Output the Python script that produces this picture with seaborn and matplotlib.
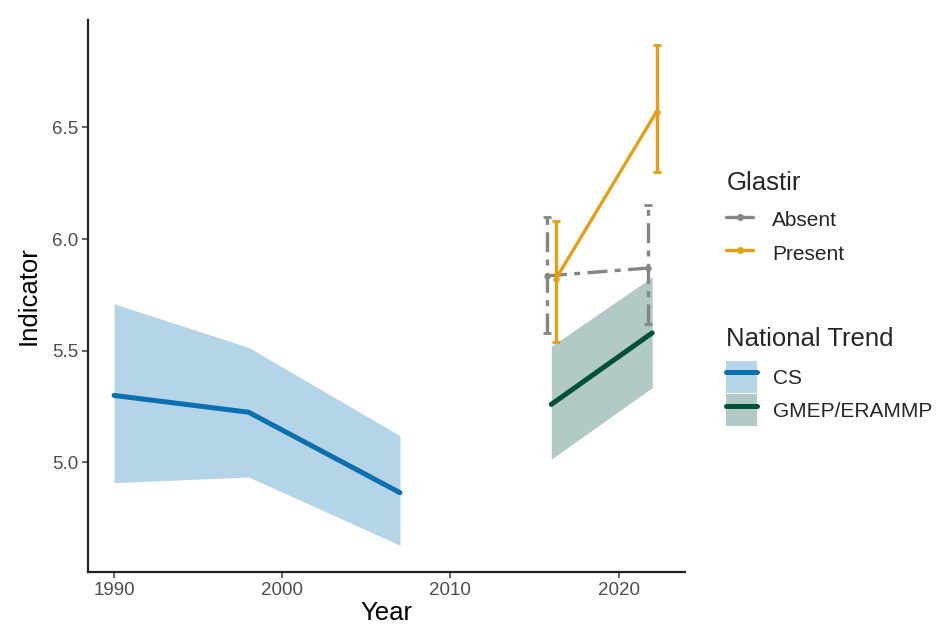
import matplotlib
matplotlib.use("Agg")
import matplotlib.pyplot as plt
import seaborn as sns
import pandas as pd
import numpy as np
from matplotlib.lines import Line2D
from matplotlib.patches import Patch

# ---- data ----
cs_year = [1990, 1998, 2007]
cs_mean = [5.30, 5.225, 4.865]
cs_low = [4.91, 4.935, 4.63]
cs_high = [5.71, 5.515, 5.12]

gm_year = [2016, 2022]
gm_mean = [5.26, 5.58]
gm_low = [5.015, 5.335]
gm_high = [5.52, 5.83]

gl_year = [2016, 2022]
absent_mean = [5.835, 5.87]
absent_low = [5.58, 5.62]
absent_high = [6.10, 6.15]
present_mean = [5.82, 6.57]
present_low = [5.54, 6.30]
present_high = [6.08, 6.87]

x_ticks = [1990, 2000, 2010, 2020]
y_ticks = [5.0, 5.5, 6.0, 6.5]

# ---- style ----
sns.set_theme(style="ticks")
plt.rcParams["font.family"] = ["Liberation Sans", "DejaVu Sans"]

C_CS = "#0a70b0"
C_CS_F = "#b4d4e8"
C_GM = "#03503c"
C_GM_F = "#b2cac5"
C_PR = "#e69f12"
C_AB = "#858585"
DODGE = 0.26

fig = plt.figure(figsize=(9.38, 6.32), dpi=100)
ax = fig.add_axes([88 / 938, 60 / 632, (685 - 88) / 938, (572 - 20) / 632])

# bands
ax.fill_between(cs_year, cs_low, cs_high, color=C_CS_F, lw=0, zorder=1)
ax.fill_between(gm_year, gm_low, gm_high, color=C_GM_F, lw=0, zorder=1)

df_cs = pd.DataFrame({"Year": cs_year, "Indicator": cs_mean})
df_gm = pd.DataFrame({"Year": gm_year, "Indicator": gm_mean})
sns.lineplot(data=df_cs, x="Year", y="Indicator", color=C_CS, lw=3.6, ax=ax, zorder=2)
sns.lineplot(data=df_gm, x="Year", y="Indicator", color=C_GM, lw=3.6, ax=ax, zorder=2)

# Glastir
ab_x = np.array(gl_year) - DODGE
pr_x = np.array(gl_year) + DODGE
dash = (6, 2.2, 1.8, 2.2)
df_ab = pd.DataFrame({"Year": ab_x, "Indicator": absent_mean})
df_pr = pd.DataFrame({"Year": pr_x, "Indicator": present_mean})
sns.lineplot(data=df_ab, x="Year", y="Indicator", color=C_AB, lw=2.4, ax=ax, zorder=3)
ax.lines[-1].set_dashes(dash)
sns.lineplot(data=df_pr, x="Year", y="Indicator", color=C_PR, lw=2.4, ax=ax, zorder=4)

eb = ax.errorbar(ab_x, absent_mean,
                 yerr=[np.array(absent_mean) - np.array(absent_low),
                       np.array(absent_high) - np.array(absent_mean)],
                 fmt="o", ms=3.5, color=C_AB, ecolor=C_AB, elinewidth=2.4,
                 capsize=3, capthick=2, zorder=3)
for lc in eb[2]:
    lc.set_linestyle((0, dash))
ax.errorbar(pr_x, present_mean,
            yerr=[np.array(present_mean) - np.array(present_low),
                  np.array(present_high) - np.array(present_mean)],
            fmt="o", ms=3.5, color=C_PR, ecolor=C_PR, elinewidth=2.4,
            capsize=3, capthick=2, zorder=4)

# axes
ax.set_xlim(1988.45, 2023.95)
ax.set_ylim(4.51, 6.98)
ax.set_xticks(x_ticks)
ax.set_xticklabels([str(t) for t in x_ticks])
ax.set_yticks(y_ticks)
ax.set_yticklabels([f"{t:.1f}" for t in y_ticks])
ax.tick_params(axis="both", labelsize=13.5, colors="#4d4d4d", length=4, width=1.2,
               labelcolor="#4d4d4d", pad=3)
ax.set_xlabel("Year", fontsize=18.5, color="black", labelpad=2)
ax.set_ylabel("Indicator", fontsize=18.5, color="black", labelpad=8)
for s in ["top", "right"]:
    ax.spines[s].set_visible(False)
for s in ["left", "bottom"]:
    ax.spines[s].set_linewidth(1.6)
    ax.spines[s].set_color("#222222")

# legends
h_ab = Line2D([], [], color=C_AB, lw=2.4, marker="o", ms=4)
h_pr = Line2D([], [], color=C_PR, lw=2.4, marker="o", ms=4)
leg1 = fig.legend([h_ab, h_pr], ["Absent", "Present"], title="Glastir",
                  loc="upper left", bbox_to_anchor=(718 / 938, 1 - 163 / 632),
                  frameon=False, fontsize=15, title_fontsize=18.5,
                  handlelength=1.3, handleheight=1.4, handletextpad=0.9,
                  labelspacing=0.45, borderaxespad=0)
leg1._legend_box.align = "left"
leg1._legend_box.sep = 8.5

h_cs = (Patch(facecolor=C_CS_F, lw=0), Line2D([], [], color=C_CS, lw=3.6))
h_gm = (Patch(facecolor=C_GM_F, lw=0), Line2D([], [], color=C_GM, lw=3.6))
leg2 = fig.legend([h_cs, h_gm], ["CS", "GMEP/ERAMMP"], title="National Trend",
                  loc="upper left", bbox_to_anchor=(718 / 938, 1 - 319 / 632),
                  frameon=False, fontsize=15, title_fontsize=18.5,
                  handlelength=1.45, handleheight=2.0, handletextpad=0.8,
                  labelspacing=0.05, borderaxespad=0)
leg2._legend_box.align = "left"
leg2._legend_box.sep = 7

fig.savefig("out.png", dpi=100)
